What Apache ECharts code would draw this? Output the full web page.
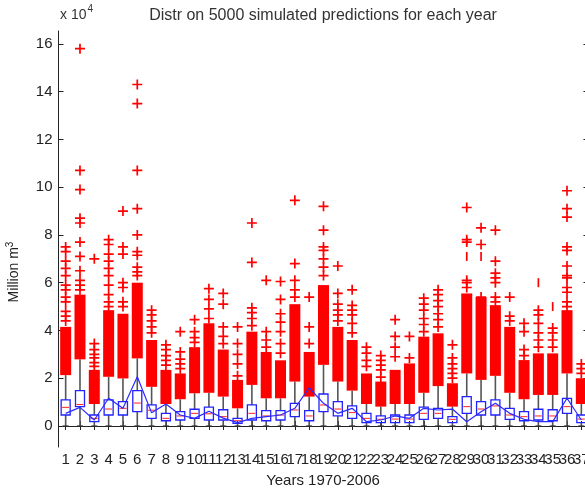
<!DOCTYPE html>
<html>
<head>
<meta charset="utf-8">
<script src="https://cdn.jsdelivr.net/npm/echarts@6.0.0/dist/echarts.min.js"></script>
<style>
  html, body { margin: 0; padding: 0; background: #fff; }
  #chart { width: 585px; height: 493px; }
</style>
</head>
<body>
<div id="chart"></div>
<script>
// values are in units of 10^4 million m3 (axis shows "x 10^4")
const years = [1,2,3,4,5,6,7,8,9,10,11,12,13,14,15,16,17,18,19,20,21,22,23,24,25,26,27,28,29,30,31,32,33,34,35,36,37];
const yTicks = [0,2,4,6,8,10,12,14,16];

// box statistics per year
const whiskerLo = [0,0,0,0,0,0,0,0,0,0,0,0,0,0,0,0,0,0,0,0,0,0,0,0,0,0,0,0,0,0,0,0,0,0,0,0,0];
const q1  = [0.46,0.81,0.18,0.46,0.46,0.60,0.32,0.22,0.25,0.32,0.25,0.25,0.11,0.25,0.22,0.25,0.39,0.22,0.60,0.42,0.32,0.14,0.14,0.14,0.14,0.28,0.32,0.14,0.53,0.46,0.46,0.28,0.22,0.25,0.22,0.53,0.14];
const med = [0.78,0.90,0.32,0.71,0.74,0.96,0.66,0.32,0.42,0.53,0.51,0.39,0.22,0.53,0.42,0.46,0.67,0.42,0.88,0.71,0.56,0.32,0.28,0.29,0.29,0.53,0.53,0.28,0.81,0.71,0.84,0.46,0.39,0.42,0.42,0.81,0.29];
const q3  = [1.09,1.48,0.46,1.09,1.02,1.48,0.88,0.53,0.60,0.70,0.79,0.68,0.32,0.88,0.64,0.64,0.95,0.64,1.34,1.02,0.84,0.53,0.42,0.46,0.46,0.79,0.74,0.39,1.23,1.02,1.09,0.74,0.60,0.70,0.68,1.16,0.46];
const whiskerHi = [2.13,2.79,0.92,2.06,1.99,2.83,1.64,0.92,1.12,1.37,1.39,1.23,0.74,1.72,1.16,1.16,1.86,1.23,2.56,1.86,1.48,0.92,0.81,0.92,0.92,1.39,1.67,0.81,2.20,1.93,2.10,1.39,1.12,1.30,1.30,2.20,0.92];

// top of the solid block of overlapping outliers
const denseTop = [4.15,5.50,2.35,4.85,4.70,6.00,3.60,2.35,2.20,3.30,4.30,3.20,1.93,3.95,3.10,2.75,5.10,3.10,5.90,4.15,3.60,2.20,1.86,2.35,2.62,3.74,3.88,1.79,5.55,5.40,5.06,4.15,2.76,3.04,3.04,4.85,2.00];

// single outliers above the solid block
const outliers = [
  [4.4,4.6,4.8,5.2,5.4,5.7,5.9,6.3,6.6,6.9,7.3,7.5],
  [5.7,5.9,6.1,6.5,7.1,7.7,8.5,8.7,9.9,10.7,15.8],
  [2.5,2.65,2.85,3.0,3.2,3.45,7.0],
  [5.0,5.2,5.5,5.9,6.3,6.6,6.9,7.2,7.6,7.8],
  [5.0,5.2,5.8,6.0,7.2,7.5,9.0],
  [6.3,6.45,6.65,7.15,7.3,8.0,9.1,10.7,13.5,14.3],
  [3.9,4.15,4.4,4.65,4.85],
  [2.55,2.75,2.95,3.2,3.4],
  [2.4,2.6,2.8,3.1,3.95],
  [3.5,3.7,3.95,4.45],
  [4.5,4.9,5.3,5.75],
  [3.45,3.75,4.15,5.1,5.55],
  [2.1,2.6,3.0,3.45,4.15],
  [4.2,4.5,4.75,4.95,6.85,8.5],
  [3.3,3.6,3.95,6.1],
  [3.05,3.45,3.95,4.35,4.7,5.3,6.05],
  [5.4,5.7,6.1,6.8,9.45],
  [3.45,4.15,5.4],
  [6.3,6.65,7.0,7.35,7.5,8.2,9.2],
  [4.4,4.65,4.85,5.1,5.55,6.7],
  [3.9,4.3,4.65,4.85,5.05,5.7],
  [2.5,2.75,3.05,3.3],
  [2.05,2.35,2.55,2.75,2.95],
  [2.9,3.3,3.75,4.45],
  [2.85,3.75],
  [3.95,4.25,4.5,4.85,5.1,5.35],
  [4.15,4.45,4.7,5.0,5.25,5.5,5.7],
  [2.0,2.2,2.4,2.6,2.85,3.4],
  [5.8,6.0,6.1,7.7,7.8,9.15],
  [5.06,5.2,5.4,7.6,8.3],
  [5.2,5.4,6.0,6.2,6.4,6.9,8.2],
  [4.4,4.6,5.4],
  [2.95,3.2,3.95,4.3],
  [3.3,3.6,3.9,4.3,4.65,4.85],
  [3.3,3.6,3.9,4.1],
  [5.0,5.2,5.6,5.8,6.2,6.3,6.7,7.35,7.5,8.75,9.1,9.85],
  [2.2,2.4,2.6]
];

// outliers drawn only as a short vertical stroke
const strokeYears = [29, 30, 34, 35];
const strokeVals = [7.1, 7.1, 6.0, 5.0];

// blue line through the years
const lineVals = [0.53,0.78,0.25,1.16,0.74,2.06,0.55,0.92,0.46,0.32,0.62,0.33,0.14,0.32,0.39,0.46,0.74,1.60,0.95,0.53,0.74,0.18,0.25,0.42,0.32,0.74,0.67,0.71,0.18,0.60,0.95,0.53,0.28,0.18,0.18,1.16,0.25];

const font = "'Liberation Sans', Arial, sans-serif";
const plusPath = 'path://M4.15,0h1.7v4.15h4.15v1.7h-4.15v4.15h-1.7v-4.15h-4.15v-1.7h4.15z';

// labels split in two sets so the library does not drop overlapping neighbours
const oddYears = years.filter(y => y % 2 === 1);
const evenYears = years.filter(y => y % 2 === 0);

const boxData = years.map((y, i) => [y, whiskerLo[i], q1[i], med[i], q3[i], whiskerHi[i]]);
const denseData = years.map((y, i) => [y, whiskerHi[i], denseTop[i]]);
const outlierData = [];
years.forEach((y, i) => outliers[i].forEach(v => outlierData.push([y, v])));
const strokeData = strokeYears.map((y, i) => [y, strokeVals[i]]);
const lineData = years.map((y, i) => [y, lineVals[i]]);

const renderBox = (params, api) => {
  const x = api.value(0);
  const lo = api.coord([x, api.value(1)]);
  const b1 = api.coord([x, api.value(2)]);
  const m = api.coord([x, api.value(3)]);
  const b3 = api.coord([x, api.value(4)]);
  const hi = api.coord([x, api.value(5)]);
  const hw = 4.5;
  const wStyle = { stroke: '#555', lineWidth: 1.6 };
  return {
    type: 'group',
    children: [
      { type: 'line', shape: { x1: lo[0], y1: lo[1], x2: b1[0], y2: b1[1] }, style: wStyle },
      { type: 'line', shape: { x1: b3[0], y1: b3[1], x2: hi[0], y2: hi[1] }, style: wStyle },
      { type: 'line', shape: { x1: lo[0] - 3, y1: lo[1], x2: lo[0] + 3, y2: lo[1] }, style: { stroke: '#333', lineWidth: 1.2 } },
      { type: 'rect', shape: { x: b3[0] - hw, y: b3[1], width: hw * 2, height: b1[1] - b3[1] },
        style: { fill: 'none', stroke: '#2222ff', lineWidth: 1.3 } },
      { type: 'line', shape: { x1: m[0] - hw + 1, y1: m[1], x2: m[0] + hw - 1, y2: m[1] }, style: { stroke: '#ff2020', lineWidth: 1 } }
    ]
  };
};

const renderDense = (params, api) => {
  const x = api.value(0);
  const lo = api.coord([x, api.value(1)]);
  const hi = api.coord([x, api.value(2)]);
  const hw = 5.5;
  return {
    type: 'rect',
    shape: { x: lo[0] - hw, y: hi[1], width: hw * 2, height: lo[1] - hi[1] },
    style: { fill: '#ff0000' }
  };
};

const axisLineStyle = { color: '#222', width: 1 };
const xLabelStyle = { fontFamily: font, fontSize: 15, color: '#222', margin: 5,
  showMinLabel: true, showMaxLabel: true, hideOverlap: false };

const option = {
  animation: false,
  title: {
    text: 'Distr on 5000 simulated predictions for each year',
    left: 318,
    top: 3,
    textAlign: 'center',
    textStyle: { fontFamily: font, fontSize: 16, fontWeight: 'normal', color: '#333' }
  },
  grid: { left: 58.5, top: 31, width: 530, height: 416, outerBoundsMode: 'none', containLabel: false },
  xAxis: [
    {
      type: 'value', min: 0.5, max: 37.5, position: 'bottom',
      axisLine: { lineStyle: axisLineStyle },
      axisTick: { inside: true, length: 5, customValues: years, lineStyle: axisLineStyle },
      axisLabel: Object.assign({ customValues: oddYears }, xLabelStyle),
      splitLine: { show: false }
    },
    {
      type: 'value', min: 0.5, max: 37.5, position: 'top',
      axisLine: { lineStyle: axisLineStyle },
      axisTick: { inside: true, length: 4, customValues: years, lineStyle: axisLineStyle },
      axisLabel: { show: false },
      splitLine: { show: false }
    },
    {
      type: 'value', min: 0.5, max: 37.5, position: 'bottom', offset: 0,
      axisLine: { show: false },
      axisTick: { show: false },
      axisLabel: Object.assign({ customValues: evenYears }, xLabelStyle),
      splitLine: { show: false }
    }
  ],
  yAxis: [
    {
      type: 'value', min: -0.88, max: 16.54, position: 'left',
      axisLine: { show: true, lineStyle: axisLineStyle },
      axisTick: { show: true, inside: true, length: 5, customValues: yTicks, lineStyle: axisLineStyle },
      axisLabel: { customValues: yTicks, fontFamily: font, fontSize: 15, color: '#222', margin: 6 },
      splitLine: { show: false }
    },
    {
      type: 'value', min: -0.88, max: 16.54, position: 'right',
      axisLine: { show: true, lineStyle: axisLineStyle },
      axisTick: { show: true, inside: true, length: 5, customValues: yTicks, lineStyle: axisLineStyle },
      axisLabel: { show: false },
      splitLine: { show: false }
    }
  ],
  graphic: [
    {
      type: 'text', left: 60, top: 4,
      style: {
        text: '{a|x 10}{b|4}',
        rich: {
          a: { fontFamily: font, fontSize: 14, fill: '#333', verticalAlign: 'bottom' },
          b: { fontFamily: font, fontSize: 10, fill: '#333', verticalAlign: 'top', padding: [0, 0, 8, 1] }
        }
      }
    },
    {
      type: 'text', x: 14, y: 272, rotation: Math.PI / 2,
      style: {
        text: '{a|Million m}{b|3}',
        align: 'center', verticalAlign: 'middle',
        rich: {
          a: { fontFamily: font, fontSize: 14, fill: '#222' },
          b: { fontFamily: font, fontSize: 10, fill: '#222', padding: [0, 0, 8, 0] }
        }
      }
    },
    {
      type: 'text', x: 323, y: 481,
      style: { text: 'Years 1970-2006', fontFamily: font, fontSize: 15, fill: '#222', align: 'center', verticalAlign: 'middle' }
    }
  ],
  series: [
    {
      type: 'custom', name: 'box', renderItem: renderBox, data: boxData,
      encode: { x: 0, y: [1, 2, 3, 4, 5] }, z: 2
    },
    {
      type: 'custom', name: 'dense', renderItem: renderDense, data: denseData,
      encode: { x: 0, y: [1, 2] }, z: 3
    },
    {
      type: 'scatter', name: 'outliers', data: outlierData,
      symbol: plusPath, symbolSize: 10,
      itemStyle: { color: '#ff0000', opacity: 1 }, z: 3
    },
    {
      type: 'scatter', name: 'strokes', data: strokeData,
      symbol: 'rect', symbolSize: [1.7, 9],
      itemStyle: { color: '#ff0000', opacity: 1 }, z: 3
    },
    {
      type: 'line', name: 'observed', data: lineData,
      symbol: 'none', lineStyle: { color: '#2a2aff', width: 1.2 }, z: 4
    }
  ]
};

const chart = echarts.init(document.getElementById('chart'));
chart.setOption(option);
</script>
</body>
</html>
